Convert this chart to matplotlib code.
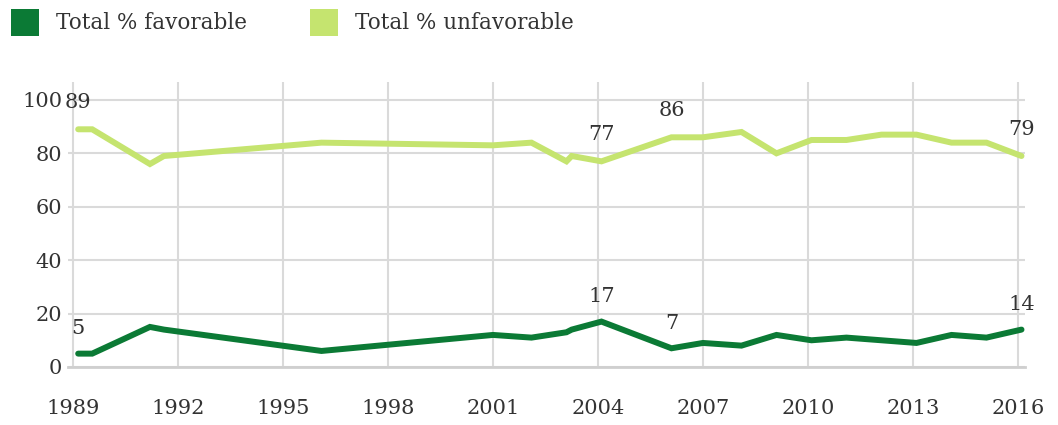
import matplotlib
matplotlib.use("Agg")
from matplotlib import pyplot as plt
from matplotlib.patches import Patch

plt.rc("font", family="DejaVu Serif", size=15)

# survey dates (fractional years) and shares in %
years = [1989.15, 1989.55, 1991.2, 1991.6, 1996.1, 2001.0, 2002.1, 2003.1,
         2003.25, 2004.1, 2006.1, 2007.0, 2008.1, 2009.1, 2010.1, 2011.1,
         2012.1, 2013.1, 2014.1, 2015.1, 2016.1]
favorable = [5, 5, 15, 14, 6, 12, 11, 13, 14, 17, 7, 9, 8, 12, 10, 11,
             10, 9, 12, 11, 14]
unfavorable = [89, 89, 76, 79, 84, 83, 84, 77, 79, 77, 86, 86, 88, 80, 85,
               85, 87, 87, 84, 84, 79]

# points that carry a value label (index into the lists above)
fav_labels = [0, 9, 10, 20]
unfav_labels = [0, 9, 10, 20]

xticks = [1989, 1992, 1995, 1998, 2001, 2004, 2007, 2010, 2013, 2016]
yticks = [0, 20, 40, 60, 80, 100]

dark = "#0b7a35"
light = "#c5e46f"
grid = "#dadada"
txt = "#333333"

fig = plt.figure(figsize=(10.58, 4.25), dpi=100)
ax = fig.add_axes([0.0643, 0.1365, 0.9045, 0.6705])

ax.plot(years, unfavorable, color=light, lw=4.3, solid_capstyle="round",
        solid_joinstyle="miter", clip_on=False, zorder=3)
ax.plot(years, favorable, color=dark, lw=4.3, solid_capstyle="round",
        solid_joinstyle="miter", clip_on=False, zorder=4)

for i in fav_labels:
    ax.annotate(str(favorable[i]), (years[i], favorable[i]),
                xytext=(0, 18), textcoords="offset points",
                ha="center", va="center", color=txt, fontsize=15)
for i in unfav_labels:
    ax.annotate(str(unfavorable[i]), (years[i], unfavorable[i]),
                xytext=(0, 19), textcoords="offset points",
                ha="center", va="center", color=txt, fontsize=15)

ax.set_xlim(1988.86, 2016.2)
ax.set_ylim(0, 106.7)
ax.set_xticks(xticks)
ax.set_yticks(yticks)
ax.grid(True, color=grid, lw=1.5)
ax.set_axisbelow(True)
for s in ["top", "right", "left"]:
    ax.spines[s].set_visible(False)
ax.spines["bottom"].set_color("#cfcfcf")
ax.spines["bottom"].set_linewidth(2)
ax.tick_params(axis="both", length=0, colors=txt, labelsize=15)
ax.tick_params(axis="x", pad=23)
ax.tick_params(axis="y", pad=4)

handles = [Patch(facecolor=dark, label="Total % favorable"),
           Patch(facecolor=light, label="Total % unfavorable")]
fig.legend(handles=handles, loc="upper left", bbox_to_anchor=(-0.008, 1.025),
           ncol=2, frameon=False, fontsize=15.5, handlelength=1.3,
           handleheight=1.55, handletextpad=0.8, columnspacing=2.9,
           labelcolor=txt)

fig.savefig("out.png", dpi=100)
